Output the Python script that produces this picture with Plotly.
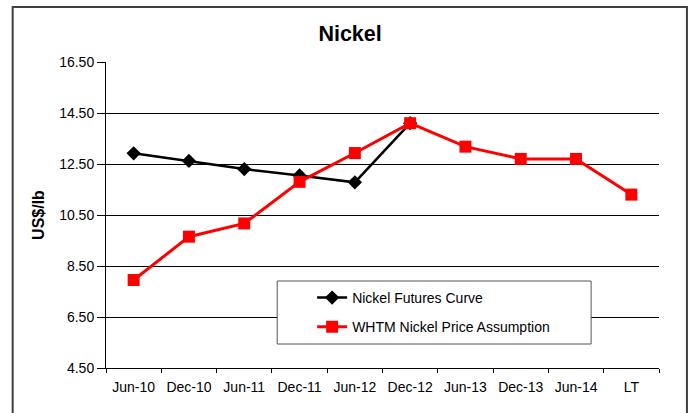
import plotly.graph_objects as go

categories = ["Jun-10", "Dec-10", "Jun-11", "Dec-11", "Jun-12", "Dec-12",
              "Jun-13", "Dec-13", "Jun-14", "LT"]
futures = [12.92, 12.62, 12.30, 12.05, 11.78, 14.10, None, None, None, None]
whtm = [7.95, 9.65, 10.17, 11.80, 12.93, 14.10, 13.18, 12.70, 12.70, 11.30]
y_ticks = [4.5, 6.5, 8.5, 10.5, 12.5, 14.5, 16.5]

W, H = 691, 413
L, R, T, B = 105.5, 659.5, 62, 368
pw, ph = R - L, B - T

def px(x):
    return (x - L) / pw

def py(y):
    return (B - y) / ph

FONT = "Liberation Sans, Arial, sans-serif"

fig = go.Figure()
fig.add_trace(go.Scatter(
    x=categories, y=futures, name="Nickel Futures Curve", mode="lines+markers",
    line=dict(color="black", width=2.5),
    marker=dict(symbol="diamond", size=11, color="black"),
    legendgroup="a", connectgaps=False))
fig.add_trace(go.Scatter(
    x=categories, y=whtm, name="WHTM Nickel Price Assumption", mode="lines+markers",
    line=dict(color="#ff0000", width=3),
    marker=dict(symbol="square", size=12, color="#ff0000"),
    legendgroup="b"))

fig.update_layout(
    width=W, height=H,
    margin=dict(l=L, r=W - R, t=T, b=H - B, pad=0, autoexpand=False),
    paper_bgcolor="white", plot_bgcolor="white",
    font=dict(family=FONT, color="black", size=14),
    title=dict(text="<b>Nickel</b>", x=px(350), xref="paper", xanchor="center",
               y=1 - 33 / H, yanchor="middle", font=dict(size=21.5, family=FONT)),
    showlegend=True,
    legend=dict(x=px(312), y=py(282), xanchor="left", yanchor="top",
                bgcolor="rgba(0,0,0,0)", borderwidth=0,
                font=dict(size=14, family=FONT), tracegroupgap=8,
                traceorder="grouped"),
    shapes=[
        dict(type="rect", xref="paper", yref="paper",
             x0=px(277), x1=px(591.5), y0=py(344), y1=py(281),
             line=dict(color="#555555", width=1), fillcolor="white", layer="above"),
        dict(type="rect", xref="paper", yref="paper",
             x0=px(12), x1=px(687.5), y0=py(440), y1=py(7),
             line=dict(color="#404040", width=2), fillcolor="rgba(0,0,0,0)", layer="above"),
    ],
)
fig.update_xaxes(
    type="category", range=[-0.5, 9.5], showgrid=False, automargin=False,
    showline=True, linecolor="black", linewidth=1,
    ticks="outside", tickson="boundaries", ticklen=4, tickcolor="black",
    ticklabelstandoff=6,
    tickfont=dict(size=14, family=FONT))
fig.update_yaxes(
    range=[4.5, 16.5], tickvals=y_ticks, ticktext=[f"{v:.2f}" for v in y_ticks],
    showgrid=True, gridcolor="black", gridwidth=1, automargin=False,
    showline=True, linecolor="black", linewidth=1,
    ticks="outside", ticklen=8, tickcolor="black",
    tickfont=dict(size=14, family=FONT), zeroline=False,
    title=dict(text="<b>US$/lb</b>", font=dict(size=16, family=FONT), standoff=10))

fig.write_html("out.html", config={"displayModeBar": False},
               post_script="document.body.style.margin='0';document.body.style.overflow='hidden';")
